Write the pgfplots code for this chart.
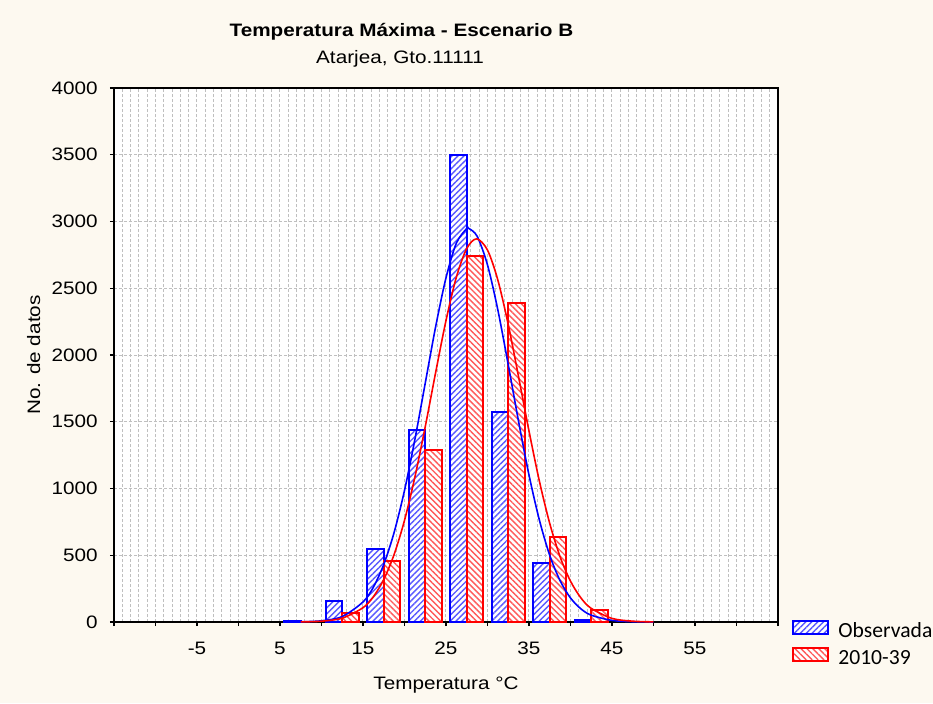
\documentclass[border=0pt]{standalone}
\usepackage{pgfplots}
\pgfplotsset{compat=1.18}
\usetikzlibrary{patterns.meta}
\usepackage{fontspec}
\setmainfont{Liberation Sans}[FakeStretch=1.15]
\newfontfamily\legfont{Carlito}
\definecolor{cream}{RGB}{253,249,240}
\pgfplotsset{boxlegend/.style={legend image code/.code={%
  \draw[##1] (0pt,-1pt) rectangle (17.5pt,5.5pt);}}}
\begin{document}
\begin{tikzpicture}
\fill[cream] (0,0) rectangle (466.5pt,351.5pt);
\begin{axis}[
  at={(57pt,40.5pt)}, anchor=south west,
  scale only axis, width=332pt, height=267pt,
  xmin=-15, xmax=65, ymin=0, ymax=4000,
  xtick={-15,-10,...,65},
  xticklabels={,,-5,,5,,15,,25,,35,,45,,55,,},
  minor x tick num=4,
  ytick={0,500,...,4000},
  xmajorgrids, xminorgrids, ymajorgrids,
  major grid style={gray!50, line width=0.5pt, dash pattern=on 1.6pt off 0.9pt},
  minor grid style={gray!50, line width=0.5pt, dash pattern=on 1.6pt off 0.9pt},
  tick align=outside, major tick length=2pt, minor tick length=0pt,
  xtick pos=lower, ytick pos=left,
  tick style={black, line width=0.6pt},
  axis line style={black, line width=1pt},
  axis background/.style={fill=white},
  ticklabel style={font=\fontsize{9}{10}\selectfont},
  xticklabel style={anchor=base, yshift=-14pt},
  yticklabel style={anchor=east, inner sep=0pt, xshift=-6pt},
  /pgf/number format/assume math mode=true,
  scaled y ticks=false,
  yticklabel style={/pgf/number format/1000 sep={}},
  xlabel={Temperatura °C},
  ylabel={No. de datos},
  label style={font=\fontsize{9}{10}\selectfont},
  xlabel style={at={(axis description cs:0.5,-0.1273)}, anchor=base},
  ylabel style={at={(axis description cs:-0.1114,0.5)}, anchor=base, rotate=0},
  legend style={at={(axis description cs:1,0)}, anchor=north west,
    xshift=7pt, yshift=1pt, draw=none, fill=none, inner sep=0pt,
    column sep=3.5pt, row sep=1.8pt,
    font=\legfont\fontsize{10.8}{12}\selectfont,
    nodes={inner sep=1pt, text height=7pt, text depth=2pt}},
  legend cell align=left,
]
\addplot[ybar, bar width=1.95, bar shift=0pt, draw=blue, line width=1pt,
  fill=white, postaction={pattern={Lines[angle=45,distance=2.1pt,line width=0.7pt]}, pattern color=blue!65},
  boxlegend]
  coordinates {(6.5,10) (11.5,160) (16.5,550) (21.5,1440) (26.5,3500) (31.5,1570) (36.5,445) (41.5,12)};
\addlegendentry{Observada}
\addplot[ybar, bar width=1.95, bar shift=0pt, draw=red, line width=1pt,
  fill=white, postaction={pattern={Lines[angle=-45,distance=2.1pt,line width=0.7pt]}, pattern color=red!65},
  boxlegend]
  coordinates {(13.5,70) (18.5,460) (23.5,1290) (28.5,2740) (33.5,2390) (38.5,640) (43.5,90)};
\addlegendentry{2010-39}
\addplot[blue, line width=0.8pt, smooth, forget plot] coordinates {
  (7.5,1.6) (10,9) (12.5,41) (15,150) (16.25,261) (17.5,431) (18.75,671) (20,985)
  (21.25,1367) (22.5,1789) (23.75,2211) (25,2578) (26.25,2838) (27.5,2948) (27.7,2950)
  (28.75,2890) (30,2675) (31.25,2337) (32.5,1927) (33.75,1500) (35,1101) (36.25,764)
  (37.5,499) (38.75,309) (40,180) (41.25,99) (42.5,51) (45,12) (47.5,2) (50,0.3)};
\addplot[red, line width=0.8pt, smooth, forget plot] coordinates {
  (7.5,1.1) (10,6) (12.5,29) (15,107) (16.25,189) (17.5,318) (18.75,506) (20,761)
  (21.25,1085) (22.5,1463) (23.75,1868) (25,2258) (26.25,2583) (27.5,2798) (28.7,2870)
  (30,2786) (31.25,2561) (32.5,2228) (33.75,1835) (35,1431) (36.25,1056) (37.5,738)
  (38.75,488) (40,306) (41.25,181) (42.5,102) (45,27) (47.5,6) (50,1)};
\end{axis}
\node[anchor=base, font=\bfseries\fontsize{9}{10}\selectfont] at (200.75pt,333.2pt) {Temperatura Máxima - Escenario B};
\node[anchor=base, font=\fontsize{9}{10}\selectfont] at (200pt,319.9pt) {Atarjea, Gto.11111};
\pgfresetboundingbox
\path (0,0) rectangle (466.5pt,351.5pt);
\end{tikzpicture}
\end{document}
